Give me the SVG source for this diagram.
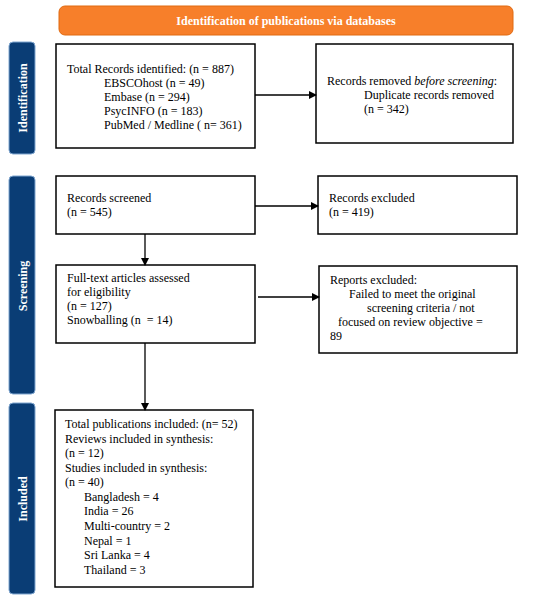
<svg xmlns="http://www.w3.org/2000/svg" width="550" height="600" viewBox="0 0 550 600">
<defs>
<marker id="ah" markerWidth="8" markerHeight="8" refX="7" refY="4" orient="auto" markerUnits="userSpaceOnUse">
<path d="M0,0 L8,4 L0,8 Z" fill="#000"/>
</marker>
</defs>
<style>
.box{fill:#fff;stroke:#000;stroke-width:1.5}
.t{font-family:"Liberation Serif","Times New Roman",serif;font-size:12px;fill:#000;white-space:pre}
.side{fill:#0a3d75;stroke:#7fa6d0;stroke-width:1}
.st{font-family:"Liberation Serif","Times New Roman",serif;font-size:12px;font-weight:bold;fill:#fff}
.ln{stroke:#000;stroke-width:1.3;fill:none;marker-end:url(#ah)}
</style>
<rect width="550" height="600" fill="#fff"/>
<g id="banner">
<rect x="59" y="6" width="454" height="29" rx="6" fill="#f77f2a" stroke="#e06a10" stroke-width="1"/>
<text class="st" x="286" y="24.5" text-anchor="middle">Identification of publications via databases</text>
</g>
<g id="side-identification">
<rect class="side" x="9" y="42" width="26" height="112" rx="4"/>
<text class="st" transform="translate(26.5,98) rotate(-90)" text-anchor="middle">Identification</text>
</g>
<g id="side-screening">
<rect class="side" x="9" y="176" width="26" height="218" rx="4"/>
<text class="st" transform="translate(26.5,286) rotate(-90)" text-anchor="middle">Screening</text>
</g>
<g id="side-included">
<rect class="side" x="9" y="403" width="26" height="191" rx="4"/>
<text class="st" transform="translate(26.5,499) rotate(-90)" text-anchor="middle">Included</text>
</g>
<g id="n-identified">
<rect class="box" x="56" y="44" width="199" height="104"/>
<text class="t" x="67" y="73">Total Records identified: (n = 887)</text>
<text class="t" x="104" y="87">EBSCOhost (n = 49)</text>
<text class="t" x="104" y="101">Embase (n = 294)</text>
<text class="t" x="104" y="115">PsycINFO (n = 183)</text>
<text class="t" x="104" y="129">PubMed / Medline ( n= 361)</text>
</g>
<g id="n-removed">
<rect class="box" x="316" y="44" width="197" height="99"/>
<text class="t" x="327" y="85">Records removed <tspan font-style="italic">before screening</tspan>:</text>
<text class="t" x="364" y="99">Duplicate records removed</text>
<text class="t" x="364" y="113">(n = 342)</text>
</g>
<g id="n-screened">
<rect class="box" x="56" y="176" width="199" height="58"/>
<text class="t" x="67" y="202">Records screened</text>
<text class="t" x="67" y="216">(n = 545)</text>
</g>
<g id="n-excluded">
<rect class="box" x="318" y="176" width="199" height="58"/>
<text class="t" x="329" y="202">Records excluded</text>
<text class="t" x="329" y="216">(n = 419)</text>
</g>
<g id="n-fulltext">
<rect class="box" x="56" y="265" width="199" height="78"/>
<text class="t" x="67" y="282">Full-text articles assessed</text>
<text class="t" x="67" y="296">for eligibility</text>
<text class="t" x="67" y="310">(n = 127)</text>
<text class="t" x="67" y="324" xml:space="preserve">Snowballing (n  = 14)</text>
</g>
<g id="n-reports">
<rect class="box" x="319" y="266" width="198" height="87"/>
<text class="t" x="330" y="284">Reports excluded:</text>
<text class="t" x="349" y="298">Failed to meet the original</text>
<text class="t" x="367" y="312">screening criteria / not</text>
<text class="t" x="338" y="326">focused on review objective =</text>
<text class="t" x="330" y="340">89</text>
</g>
<g id="n-included">
<rect class="box" x="55" y="410" width="198" height="177"/>
<text class="t" x="65" y="428">Total publications included: (n= 52)</text>
<text class="t" x="65" y="442.5">Reviews included in synthesis:</text>
<text class="t" x="65" y="457">(n = 12)</text>
<text class="t" x="65" y="471.5">Studies included in synthesis:</text>
<text class="t" x="65" y="486">(n = 40)</text>
<text class="t" x="84" y="500.5">Bangladesh = 4</text>
<text class="t" x="84" y="515">India = 26</text>
<text class="t" x="84" y="530">Multi-country = 2</text>
<text class="t" x="84" y="544.5">Nepal = 1</text>
<text class="t" x="84" y="559">Sri Lanka = 4</text>
<text class="t" x="84" y="573.5">Thailand = 3</text>
</g>
<g id="connectors">
<line class="ln" x1="255" y1="95" x2="316" y2="95"/>
<line class="ln" x1="255" y1="206" x2="318" y2="206"/>
<line class="ln" x1="145" y1="234" x2="145" y2="265"/>
<line class="ln" x1="258" y1="297" x2="319" y2="297"/>
<line class="ln" x1="145" y1="343" x2="145" y2="410"/>
</g>
</svg>
